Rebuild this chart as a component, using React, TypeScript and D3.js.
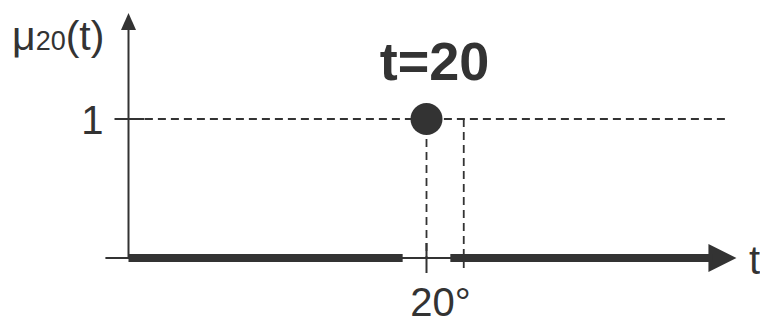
import React from "react";
import * as d3 from "d3";

// schematic membership function mu_20(t)
const tDomain = [0, 20];
const muDomain = [0, 1];
const lowSegments = [
  { from: 0, to: 18.4 },
  { from: 21.6, to: 39.2 },
];
const peakT = 20;
const peakMu = 1;
const shiftedT = 22.5;
const axisStartT = -1.55;
const axisEndT = 40.8;
const yAxisTop = 1.763;
const yTicks = [1];
const xTickLabels = ["20°"];

const W = 760;
const H = 325;
const ink = "#333333";
const font = "'Liberation Sans', Arial, sans-serif";

const App = () => {
  const x = d3.scaleLinear().domain(tDomain).range([128.5, 426.5]);
  const y = d3.scaleLinear().domain(muDomain).range([258, 119]);

  const x0 = x(0);
  const yTop = y(yAxisTop);
  const xEnd = x(axisEndT);

  return (
    <svg
      width={W}
      height={H}
      style={{ position: "absolute", left: 0, top: 0, background: "#fff" }}
      fontFamily={font}
    >
      {/* dashed guide at mu = 1 */}
      <line
        x1={x(1.1)}
        x2={x(40.3)}
        y1={y(peakMu)}
        y2={y(peakMu)}
        stroke={ink}
        strokeWidth={1.8}
        strokeDasharray="8 5"
      />
      {/* dashed drop lines */}
      <line
        x1={x(peakT)}
        x2={x(peakT)}
        y1={y(peakMu) + 20}
        y2={y(0)}
        stroke={ink}
        strokeWidth={1.8}
        strokeDasharray="8 5"
      />
      <line
        x1={x(shiftedT)}
        x2={x(shiftedT)}
        y1={y(peakMu)}
        y2={y(0) + 10}
        stroke={ink}
        strokeWidth={1.8}
        strokeDasharray="8 5"
      />

      {/* axes */}
      <line x1={x0} x2={x0} y1={yTop + 14} y2={y(0)} stroke={ink} strokeWidth={2} />
      <path
        d={`M${x0},${yTop} L${x0 - 7.5},${yTop + 17} L${x0 + 7.5},${yTop + 17} Z`}
        fill={ink}
      />
      <line x1={x(axisStartT)} x2={xEnd - 20} y1={y(0)} y2={y(0)} stroke={ink} strokeWidth={2} />
      <path
        d={`M${xEnd},${y(0)} L${xEnd - 28},${y(0) - 14} L${xEnd - 28},${y(0) + 14} Z`}
        fill={ink}
      />

      {/* ticks */}
      {yTicks.map((v) => (
        <g key={v}>
          <line x1={x0 - 14} x2={x0 + 16} y1={y(v)} y2={y(v)} stroke={ink} strokeWidth={2} />
          <text x={x0 - 25} y={y(v) + 15} textAnchor="end" fontSize={40} fill={ink}>
            {v}
          </text>
        </g>
      ))}
      <line x1={x(peakT)} x2={x(peakT)} y1={y(0) - 15} y2={y(0) + 15} stroke={ink} strokeWidth={2} />
      <text x={x(peakT) + 14} y={316} textAnchor="middle" fontSize={40} fill={ink}>
        {xTickLabels[0]}
      </text>

      {/* zero-valued segments */}
      {lowSegments.map((s, i) => (
        <line
          key={i}
          x1={x(s.from)}
          x2={x(s.to)}
          y1={y(0)}
          y2={y(0)}
          stroke={ink}
          strokeWidth={8}
        />
      ))}

      {/* the single point at t = 20 */}
      <circle cx={x(peakT)} cy={y(peakMu)} r={16} fill={ink} />
      <text
        x={x(peakT) + 8}
        y={80}
        textAnchor="middle"
        fontSize={54}
        fontWeight="bold"
        fill={ink}
      >
        t=20
      </text>

      {/* axis titles */}
      <text x={12} y={50} fontSize={41} fill={ink}>
        μ
        <tspan fontSize={27}>20</tspan>
        <tspan fontSize={41}>(t)</tspan>
      </text>
      <text x={749} y={274} fontSize={40} fill={ink}>
        t
      </text>
    </svg>
  );
};

export default App;
